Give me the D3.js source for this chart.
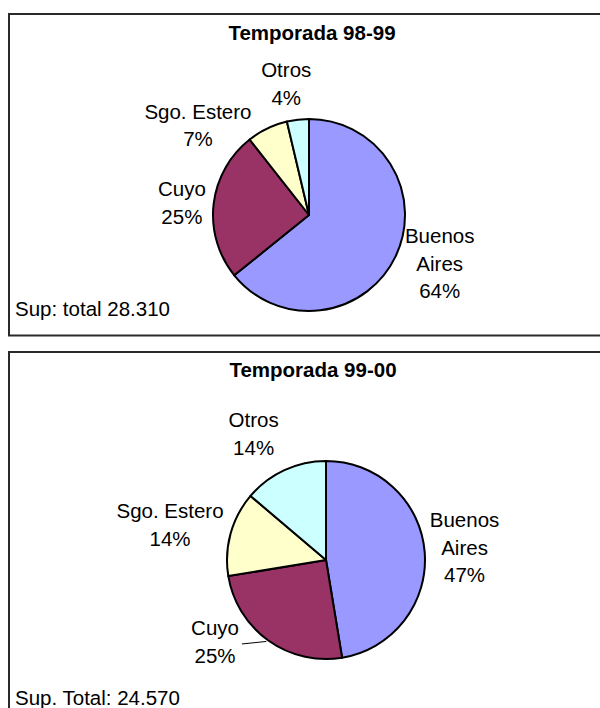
<!DOCTYPE html>
<html>
<head>
<meta charset="utf-8">
<script src="https://cdn.jsdelivr.net/npm/d3@7"></script>
<style>
  body { margin: 0; background: #fff; }
  svg { display: block; }
</style>
</head>
<body>
<script>
// data (shares in %)
const regions = ['Buenos Aires', 'Cuyo', 'Sgo. Estero', 'Otros'];
const share_98_99 = [64.2, 25.2, 6.9, 3.7];
const share_99_00 = [47.4, 25.0, 13.8, 13.8];
const titles = ['Temporada 98-99', 'Temporada 99-00'];
const totals = ['Sup: total 28.310', 'Sup. Total: 24.570'];

const _svg_width = 600;
const _svg_height = 708;
const font = 'Arial, "Liberation Sans", sans-serif';
const font_size = 20.5;
const line_h = 27.7;
const slice_colors = ['#9999FF', '#993366', '#FFFFCC', '#CCFFFF'];
const wrap_names = ['Buenos Aires'];

// one layout entry per panel
const panels = [
    {values: share_98_99, box_y: 14, box_h: 321.5, title_x: 312, title_y: 39.5, total_y: 316,
     cx: 309, cy: 215, r: 96,
     nudge: [[8, -10], [8, 3], [-52, 33], [-7, 4]], leader: [false, false, false, false]},
    {values: share_99_00, box_y: 352, box_h: 420, title_x: 313, title_y: 377.3, total_y: 705,
     cx: 326, cy: 560, r: 99,
     nudge: [[0, -1], [-30, -31], [-22, 2], [-14, 0]], leader: [false, true, false, false]}
];

const pct = d3.format('.0f');

const svg = d3.select('body')
    .append('svg')
    .attr('width', _svg_width)
    .attr('height', _svg_height);

const pie = d3.pie().sort(null).value(d => d.value);

panels.forEach((p, k) => {
    const g = svg.append('g').attr('class', 'panel');

    g.append('rect')
        .attr('x', 9)
        .attr('y', p.box_y)
        .attr('width', 620)
        .attr('height', p.box_h)
        .attr('fill', 'white')
        .attr('stroke', '#2a2a2a')
        .attr('stroke-width', 2);

    g.append('text')
        .attr('x', p.title_x)
        .attr('y', p.title_y)
        .attr('text-anchor', 'middle')
        .style('font-family', font)
        .style('font-size', font_size + 'px')
        .style('font-weight', 'bold')
        .text(titles[k]);

    g.append('text')
        .attr('x', 15)
        .attr('y', p.total_y)
        .style('font-family', font)
        .style('font-size', font_size + 'px')
        .text(totals[k]);

    const total = d3.sum(p.values);
    const arcs = pie(regions.map((name, i) => ({name: name, value: p.values[i], i: i})));
    const arc = d3.arc().innerRadius(0).outerRadius(p.r);
    const edge_arc = d3.arc().innerRadius(p.r).outerRadius(p.r);
    const label_arc = d3.arc().innerRadius(p.r + 40).outerRadius(p.r + 40);

    const pie_g = g.append('g')
        .attr('transform', `translate(${p.cx},${p.cy})`);

    pie_g.selectAll('path')
        .data(arcs)
        .join('path')
        .attr('d', arc)
        .attr('fill', d => slice_colors[d.data.i])
        .attr('stroke', 'black')
        .attr('stroke-width', 2)
        .attr('stroke-linejoin', 'round');

    arcs.forEach(d => {
        const c = label_arc.centroid(d);
        const lx = c[0] + p.nudge[d.data.i][0];
        const ly = c[1] + p.nudge[d.data.i][1];
        const name_lines = wrap_names.includes(d.data.name) ? d.data.name.split(' ') : [d.data.name];
        const lines = name_lines.concat([pct(d.data.value / total * 100) + '%']);
        const n = lines.length;

        const t = pie_g.append('text')
            .attr('text-anchor', 'middle')
            .style('font-family', font)
            .style('font-size', font_size + 'px');
        lines.forEach((s, j) => {
            t.append('tspan')
                .attr('x', lx)
                .attr('y', ly + (j - (n - 1) / 2) * line_h + 7)
                .text(s);
        });

        if (p.leader[d.data.i]) {
            const e = edge_arc.centroid(d);
            const w = t.node().getBBox().width;
            pie_g.append('line')
                .attr('x1', e[0] - 2)
                .attr('y1', e[1] + 1)
                .attr('x2', lx + w / 2 + 3)
                .attr('y2', ly + 2)
                .attr('stroke', 'black')
                .attr('stroke-width', 1);
        }
    });
});
</script>
</body>
</html>
